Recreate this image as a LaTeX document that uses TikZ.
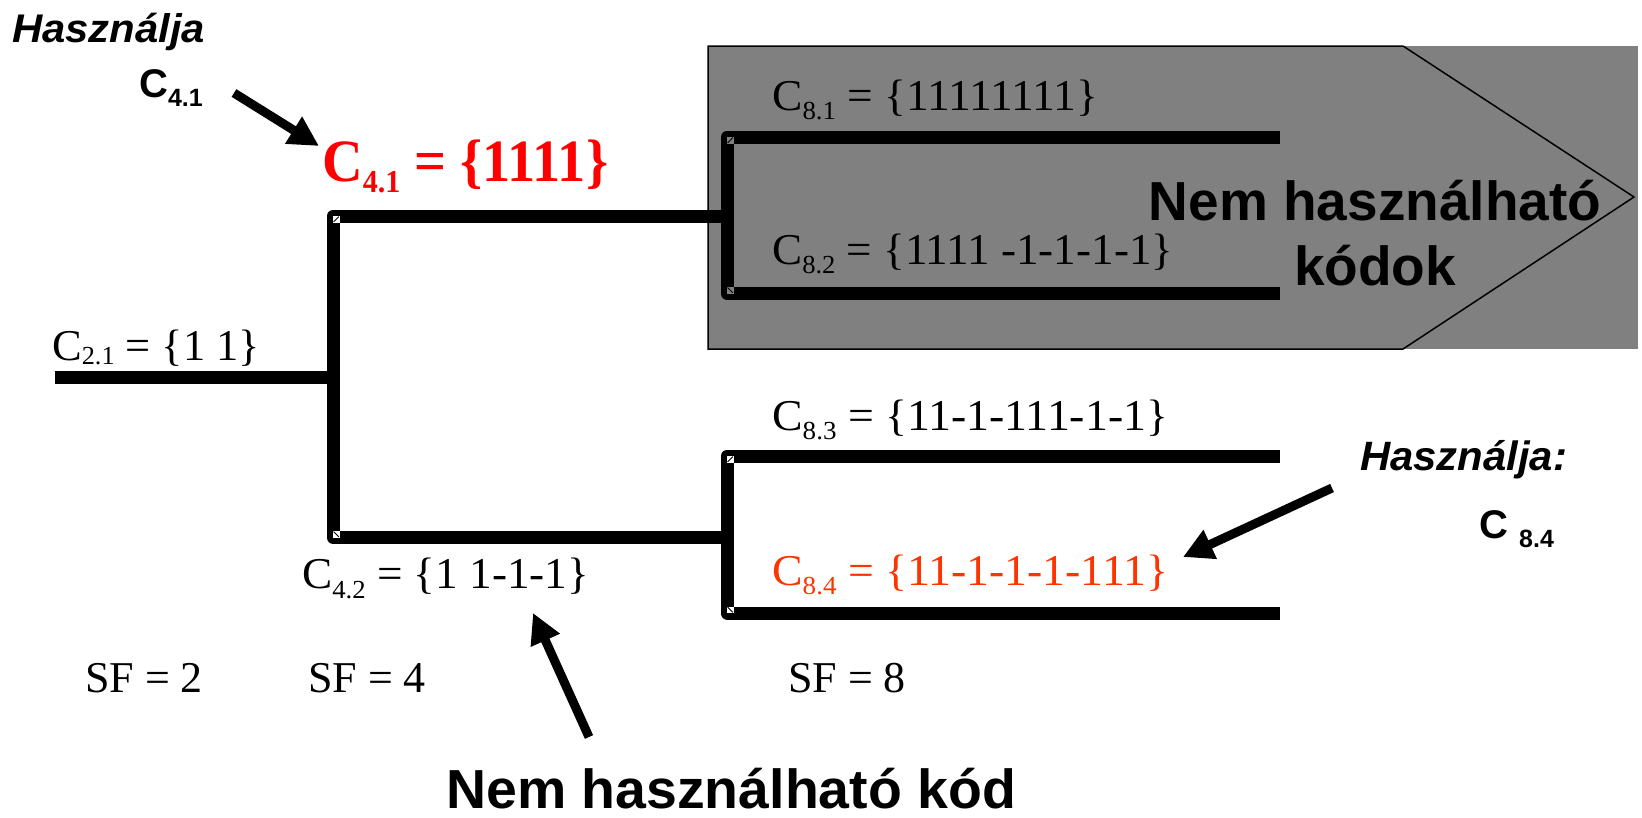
\documentclass[tikz,border=0pt]{standalone}
\usepackage{fontspec}
\setmainfont{Liberation Serif}
\newfontfamily\arialfont{Liberation Sans}
\usetikzlibrary{arrows.meta}

\definecolor{boxgray}{RGB}{128,128,128}
\definecolor{usedred}{RGB}{255,0,0}
\definecolor{usedorange}{RGB}{255,51,0}

% squeeze or stretch a label to a given width, keeping its height
\newcommand\fitto[2]{\resizebox{#1}{\height}{#2}}
% lowered subscript: drop, size, text
\newcommand\lowsub[3]{\raisebox{-#1}{\fontsize{#2}{#2}\selectfont #3}}

\begin{document}
\begin{tikzpicture}[x=1pt,y=-1pt,
  tree/.style={line width=13pt, line join=round},
  pointer/.style={line width=9pt, -{Triangle[length=30pt,width=30pt]}},
  code/.style={anchor=base west, inner sep=0pt, font=\fontsize{44}{44}\selectfont},
  sans/.style={anchor=base west, inner sep=0pt, font=\arialfont\bfseries\fontsize{55}{55}\selectfont},
  note/.style={anchor=base west, inner sep=0pt, font=\arialfont\bfseries\itshape\fontsize{41}{41}\selectfont},
  codename/.style={anchor=base west, inner sep=0pt, font=\arialfont\bfseries\fontsize{40}{40}\selectfont},
  markup/.pic={\fill[#1] (0,0) rectangle (6.5,6.5); \draw[line width=0.8pt] (0.6,5.9) -- (5.9,0.6);},
  markdown/.pic={\fill[#1] (0,0) rectangle (6.5,-6.5); \draw[line width=0.8pt] (0.6,-5.9) -- (5.9,-0.6);},
]
\useasboundingbox (0,0) rectangle (1642,817);

% ---- grey block of unusable codes ----
\fill[boxgray] (1403,46) rectangle (1638,349);
\draw[fill=boxgray, line width=1.5pt] (708,46) -- (1403,46) -- (1634,197) -- (1403,349) -- (708,349) -- cycle;

% ---- code tree ----
\coordinate (root) at (55,377.5);
\coordinate (j2)   at (333,377.5);
\coordinate (b4t)  at (333,216);
\coordinate (b4b)  at (333,537.5);
\coordinate (j8t)  at (727,216);
\coordinate (j8b)  at (727,537.5);
\coordinate (k81)  at (727,137);
\coordinate (k82)  at (727,293.5);
\coordinate (k83)  at (727,456);
\coordinate (k84)  at (727,613);
\coordinate (e81)  at (1280,137);
\coordinate (e82)  at (1280,293.5);
\coordinate (e83)  at (1280,456);
\coordinate (e84)  at (1280,613);

\draw[tree] (root) -- (j2);
\draw[tree] (j8t) -- (b4t) -- (b4b) -- (j8b);
\draw[tree] (e81) -- (k81) -- (k82) -- (e82);
\draw[tree] (e83) -- (k83) -- (k84) -- (e84);

% small join markers at the inner corners
\pic at (b4t) {markup=white};
\pic at (b4b) {markdown=white};
\pic at (k81) {markup=boxgray};
\pic at (k82) {markdown=boxgray};
\pic at (k83) {markup=white};
\pic at (k84) {markdown=white};

% ---- code labels ----
\node[code] (c21) at (52,360) {\fitto{208pt}{C\lowsub{4pt}{26}{2.1} = \{1 1\}}};
\node[code, text=usedred, font=\bfseries\fontsize{60}{60}\selectfont] (c41) at (322,181)
  {\fitto{286pt}{C\lowsub{11pt}{32}{4.1} = \{1111\}}};
\node[code] (c42) at (302,588) {\fitto{287pt}{C\lowsub{10pt}{26}{4.2} = \{1 1-1-1\}}};
\node[code] (c81) at (772,110) {\fitto{326pt}{C\lowsub{9pt}{26}{8.1} = \{11111111\}}};
\node[code] (c82) at (772,264) {\fitto{401pt}{C\lowsub{9pt}{26}{8.2} = \{1111 -1-1-1-1\}}};
\node[code] (c83) at (772,430) {\fitto{396pt}{C\lowsub{9pt}{26}{8.3} = \{11-1-111-1-1\}}};
\node[code, text=usedorange] (c84) at (772,585) {\fitto{396pt}{C\lowsub{9pt}{26}{8.4} = \{11-1-1-1-111\}}};

% spreading factors
\node[code] (sf2) at (85,692)  {SF = 2};
\node[code] (sf4) at (308,692) {SF = 4};
\node[code] (sf8) at (788,692) {SF = 8};

% ---- annotations ----
\node[note, font=\arialfont\bfseries\itshape\fontsize{40}{40}\selectfont] (use1) at (12,42) {\fitto{193pt}{Használja}};
\node[codename] (use1c) at (139,97) {C\lowsub{9pt}{25}{4.1}};
\node[note] (use2) at (1360,470) {\fitto{207pt}{Használja:}};
\node[codename] (use2c) at (1479,538) {C \lowsub{9pt}{25}{8.4}};

\node[sans] (nemk) at (446,808) {\fitto{570pt}{Nem használható kód}};
\node[anchor=base, inner sep=0pt, font=\arialfont\bfseries\fontsize{55}{55}\selectfont] (nemk1) at (1375,220) {Nem használható};
\node[anchor=base, inner sep=0pt, font=\arialfont\bfseries\fontsize{55}{55}\selectfont] (nemk2) at (1375,285) {kódok};

% ---- pointer arrows ----
\coordinate (p1s) at (234,93);
\coordinate (p1e) at (319,146);
\coordinate (p2s) at (1332,488);
\coordinate (p2e) at (1183,557);
\coordinate (p3s) at (589,737);
\coordinate (p3e) at (533,613);
\draw[pointer] (p1s) -- (p1e);
\draw[pointer] (p2s) -- (p2e);
\draw[pointer] (p3s) -- (p3e);
\end{tikzpicture}
\end{document}
